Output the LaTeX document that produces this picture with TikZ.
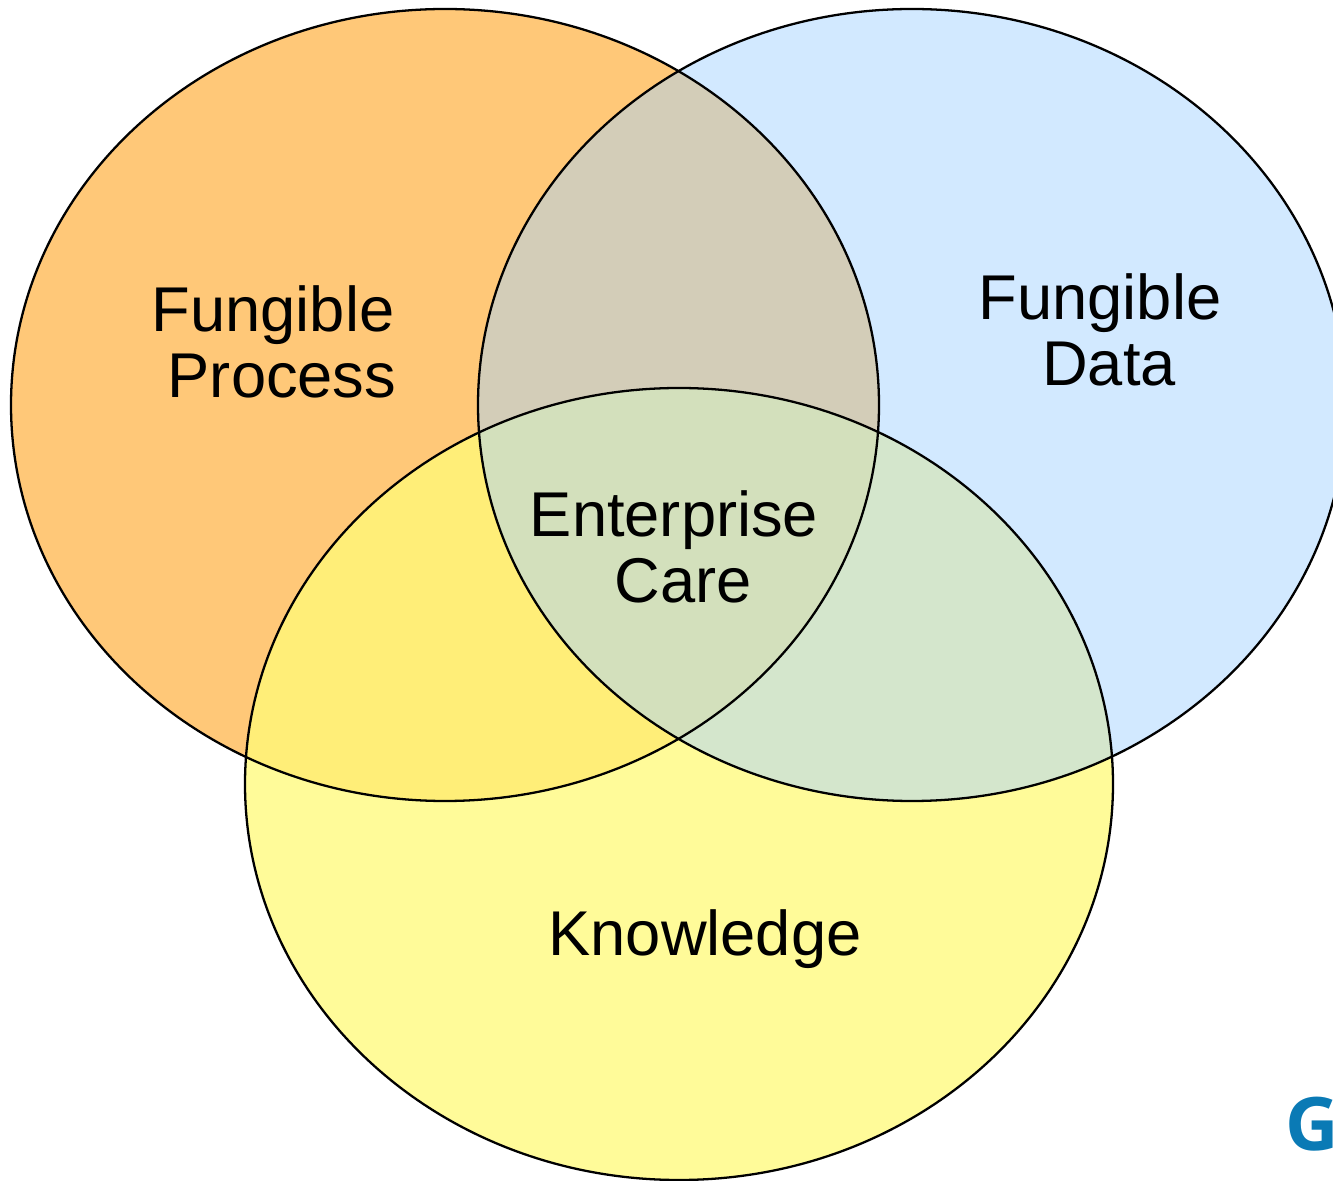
\documentclass[tikz,border=0pt]{standalone}
\usepackage{fontspec}
\usepackage{xcolor}
\setmainfont{Liberation Sans}
\newfontfamily\logofont{Open Sans}

\definecolor{processcolor}{HTML}{FFC878}
\definecolor{datacolor}{HTML}{D2E9FF}
\definecolor{knowcolor}{HTML}{FFFB99}
\definecolor{procdatacolor}{HTML}{D3CDB8}
\definecolor{prockncolor}{HTML}{FFEE78}
\definecolor{dataknowcolor}{HTML}{D4E6CC}
\definecolor{carecolor}{HTML}{D3E0BC}
\definecolor{logocolor}{HTML}{0A7AB5}

\tikzset{
    venntext/.style={anchor=base, inner sep=0pt, font=\fontsize{18}{18}\selectfont, text=black},
    vennline/.style={draw=black, line width=0.65pt}
}

\def\processpath{(4.45,7.75) ellipse (4.34 and 3.96)}
\def\datapath{(9.12,7.75) ellipse (4.34 and 3.96)}
\def\knowpath{(6.79,3.96) ellipse (4.34 and 3.96)}

\begin{document}
\begin{tikzpicture}
    \useasboundingbox (0,0) rectangle (13.33,11.80);
    \clip (0,0) rectangle (13.33,11.80);

    % plain circles
    \fill[color=processcolor] \processpath;
    \fill[color=datacolor] \datapath;
    \fill[color=knowcolor] \knowpath;

    % overlaps
    \begin{scope}
        \clip \processpath;
        \fill[color=procdatacolor] \datapath;
        \fill[color=prockncolor] \knowpath;
    \end{scope}
    \begin{scope}
        \clip \datapath;
        \fill[color=dataknowcolor] \knowpath;
    \end{scope}
    \begin{scope}
        \clip \processpath;
        \clip \datapath;
        \fill[color=carecolor] \knowpath;
    \end{scope}

    % outlines
    \draw[vennline] \processpath;
    \draw[vennline] \datapath;
    \draw[vennline] \knowpath;

    % labels
    \node[venntext] (process1) at (2.73,8.48) {Fungible};
    \node[venntext] (process2) at (2.82,7.82) {Process};
    \node[venntext] (data1) at (11.00,8.60) {Fungible};
    \node[venntext] (data2) at (11.09,7.94) {Data};
    \node[venntext] (care1) at (6.74,6.43) {Enterprise};
    \node[venntext] (care2) at (6.83,5.77) {Care};
    \node[venntext] (know) at (7.05,2.25) {Knowledge};

    % cut off logo letter
    \node[anchor=base west, inner sep=0pt, text=logocolor, font=\logofont\bfseries\fontsize{21}{21}\selectfont] (logo) at (12.85,0.30) {G};
\end{tikzpicture}
\end{document}
